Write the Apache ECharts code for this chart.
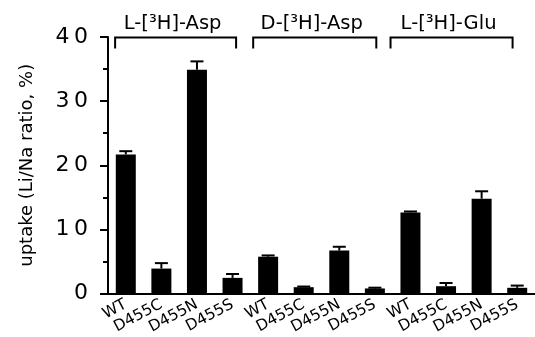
<!DOCTYPE html>
<html>
<head>
<meta charset="utf-8">
<script src="https://cdn.jsdelivr.net/npm/echarts@6/dist/echarts.min.js"></script>
<style>
  html, body { margin: 0; padding: 0; background: #fff; }
  #chart { width: 535px; height: 337px; }
</style>
</head>
<body>
<div id="chart"></div>
<script>
  // categories and values
  const mutants = ['WT', 'D455C', 'D455N', 'D455S']
  const categories = mutants.concat(mutants, mutants)
  const uptake = [21.7, 3.9, 34.9, 2.45, 5.75, 1.0, 6.7, 0.8, 12.65, 1.15, 14.8, 0.9]
  const uptakeErr = [0.5, 0.85, 1.3, 0.6, 0.2, 0.1, 0.6, 0.12, 0.15, 0.5, 1.15, 0.35]
  const groupNames = ['L-[³H]-Asp', 'D-[³H]-Asp', 'L-[³H]-Glu']
  const groupStart = [0, 4, 8]
  const groupEnd = [3, 7, 11]
  const yTicks = [0, 10, 20, 30, 40]

  const FONT = 'DejaVu Sans'
  // how far each bracket reaches past its first / last bar, in bands
  const bracketPad = [[-0.3, 0.1], [-0.42, 0.04], [-0.56, -0.13]]

  const chart = echarts.init(document.getElementById('chart'))

  chart.setOption({
    animation: false,
    grid: { left: 108, right: -2, top: 37, bottom: 43 },
    xAxis: {
      type: 'category',
      data: categories,
      axisLine: { lineStyle: { color: '#000', width: 2 } },
      axisTick: { show: false },
      axisLabel: {
        rotate: 28,
        margin: 10,
        color: '#000',
        fontFamily: FONT,
        fontSize: 15.5,
        interval: 0
      }
    },
    yAxis: {
      type: 'value',
      min: yTicks[0],
      max: yTicks[yTicks.length - 1],
      interval: 10,
      name: 'uptake (Li/Na ratio, %)',
      nameLocation: 'middle',
      nameGap: 72,
      nameTextStyle: { color: '#000', fontFamily: FONT, fontSize: 18 },
      axisLine: { show: true, lineStyle: { color: '#000', width: 2 } },
      axisTick: { show: true, length: 8, lineStyle: { color: '#000', width: 2 } },
      minorTick: { show: true, splitNumber: 2, length: 5, lineStyle: { color: '#000', width: 2 } },
      splitLine: { show: false },
      axisLabel: {
        margin: 20,
        color: '#000',
        fontFamily: FONT,
        fontSize: 22,
        formatter: v => String(v).split('').join('\u2009')
      }
    },
    series: [
      {
        type: 'bar',
        data: uptake,
        barWidth: 20,
        itemStyle: { color: '#000' }
      },
      {
        type: 'custom',
        clip: false,
        data: uptake.map((v, i) => [i, v, uptakeErr[i]]),
        encode: { x: 0, y: 1 },
        renderItem: (params, api) => {
          const i = api.value(0)
          const base = api.coord([i, api.value(1)])
          const top = api.coord([i, api.value(1) + api.value(2)])
          const half = 6.5
          const ls = { stroke: '#000', lineWidth: 2 }
          return {
            type: 'group',
            children: [
              { type: 'line', shape: { x1: base[0], y1: base[1], x2: top[0], y2: top[1] }, style: ls },
              { type: 'line', shape: { x1: top[0] - half, y1: top[1], x2: top[0] + half, y2: top[1] }, style: ls }
            ]
          }
        }
      },
      {
        type: 'custom',
        clip: false,
        silent: true,
        data: groupNames.map((n, g) => [groupStart[g], groupEnd[g], 40]),
        encode: { x: [0, 1], y: 2 },
        renderItem: (params, api) => {
          const g = params.dataIndex
          const band = api.size([1, 0])[0]
          const p0 = api.coord([api.value(0), api.value(2)])
          const p1 = api.coord([api.value(1), api.value(2)])
          const x0 = p0[0] + bracketPad[g][0] * band
          const x1 = p1[0] + bracketPad[g][1] * band
          const y = p0[1] + 0.5
          const ls = { stroke: '#000', lineWidth: 2, fill: 'none' }
          return {
            type: 'group',
            children: [
              { type: 'polyline', shape: { points: [[x0, y + 11], [x0, y], [x1, y], [x1, y + 11]] }, style: ls },
              {
                type: 'text',
                style: {
                  text: groupNames[g],
                  x: (x0 + x1) / 2 - 3,
                  y: y - 4,
                  align: 'center',
                  verticalAlign: 'bottom',
                  fill: '#000',
                  font: '19.5px "' + FONT + '"'
                }
              }
            ]
          }
        }
      }
    ]
  })
</script>
</body>
</html>
